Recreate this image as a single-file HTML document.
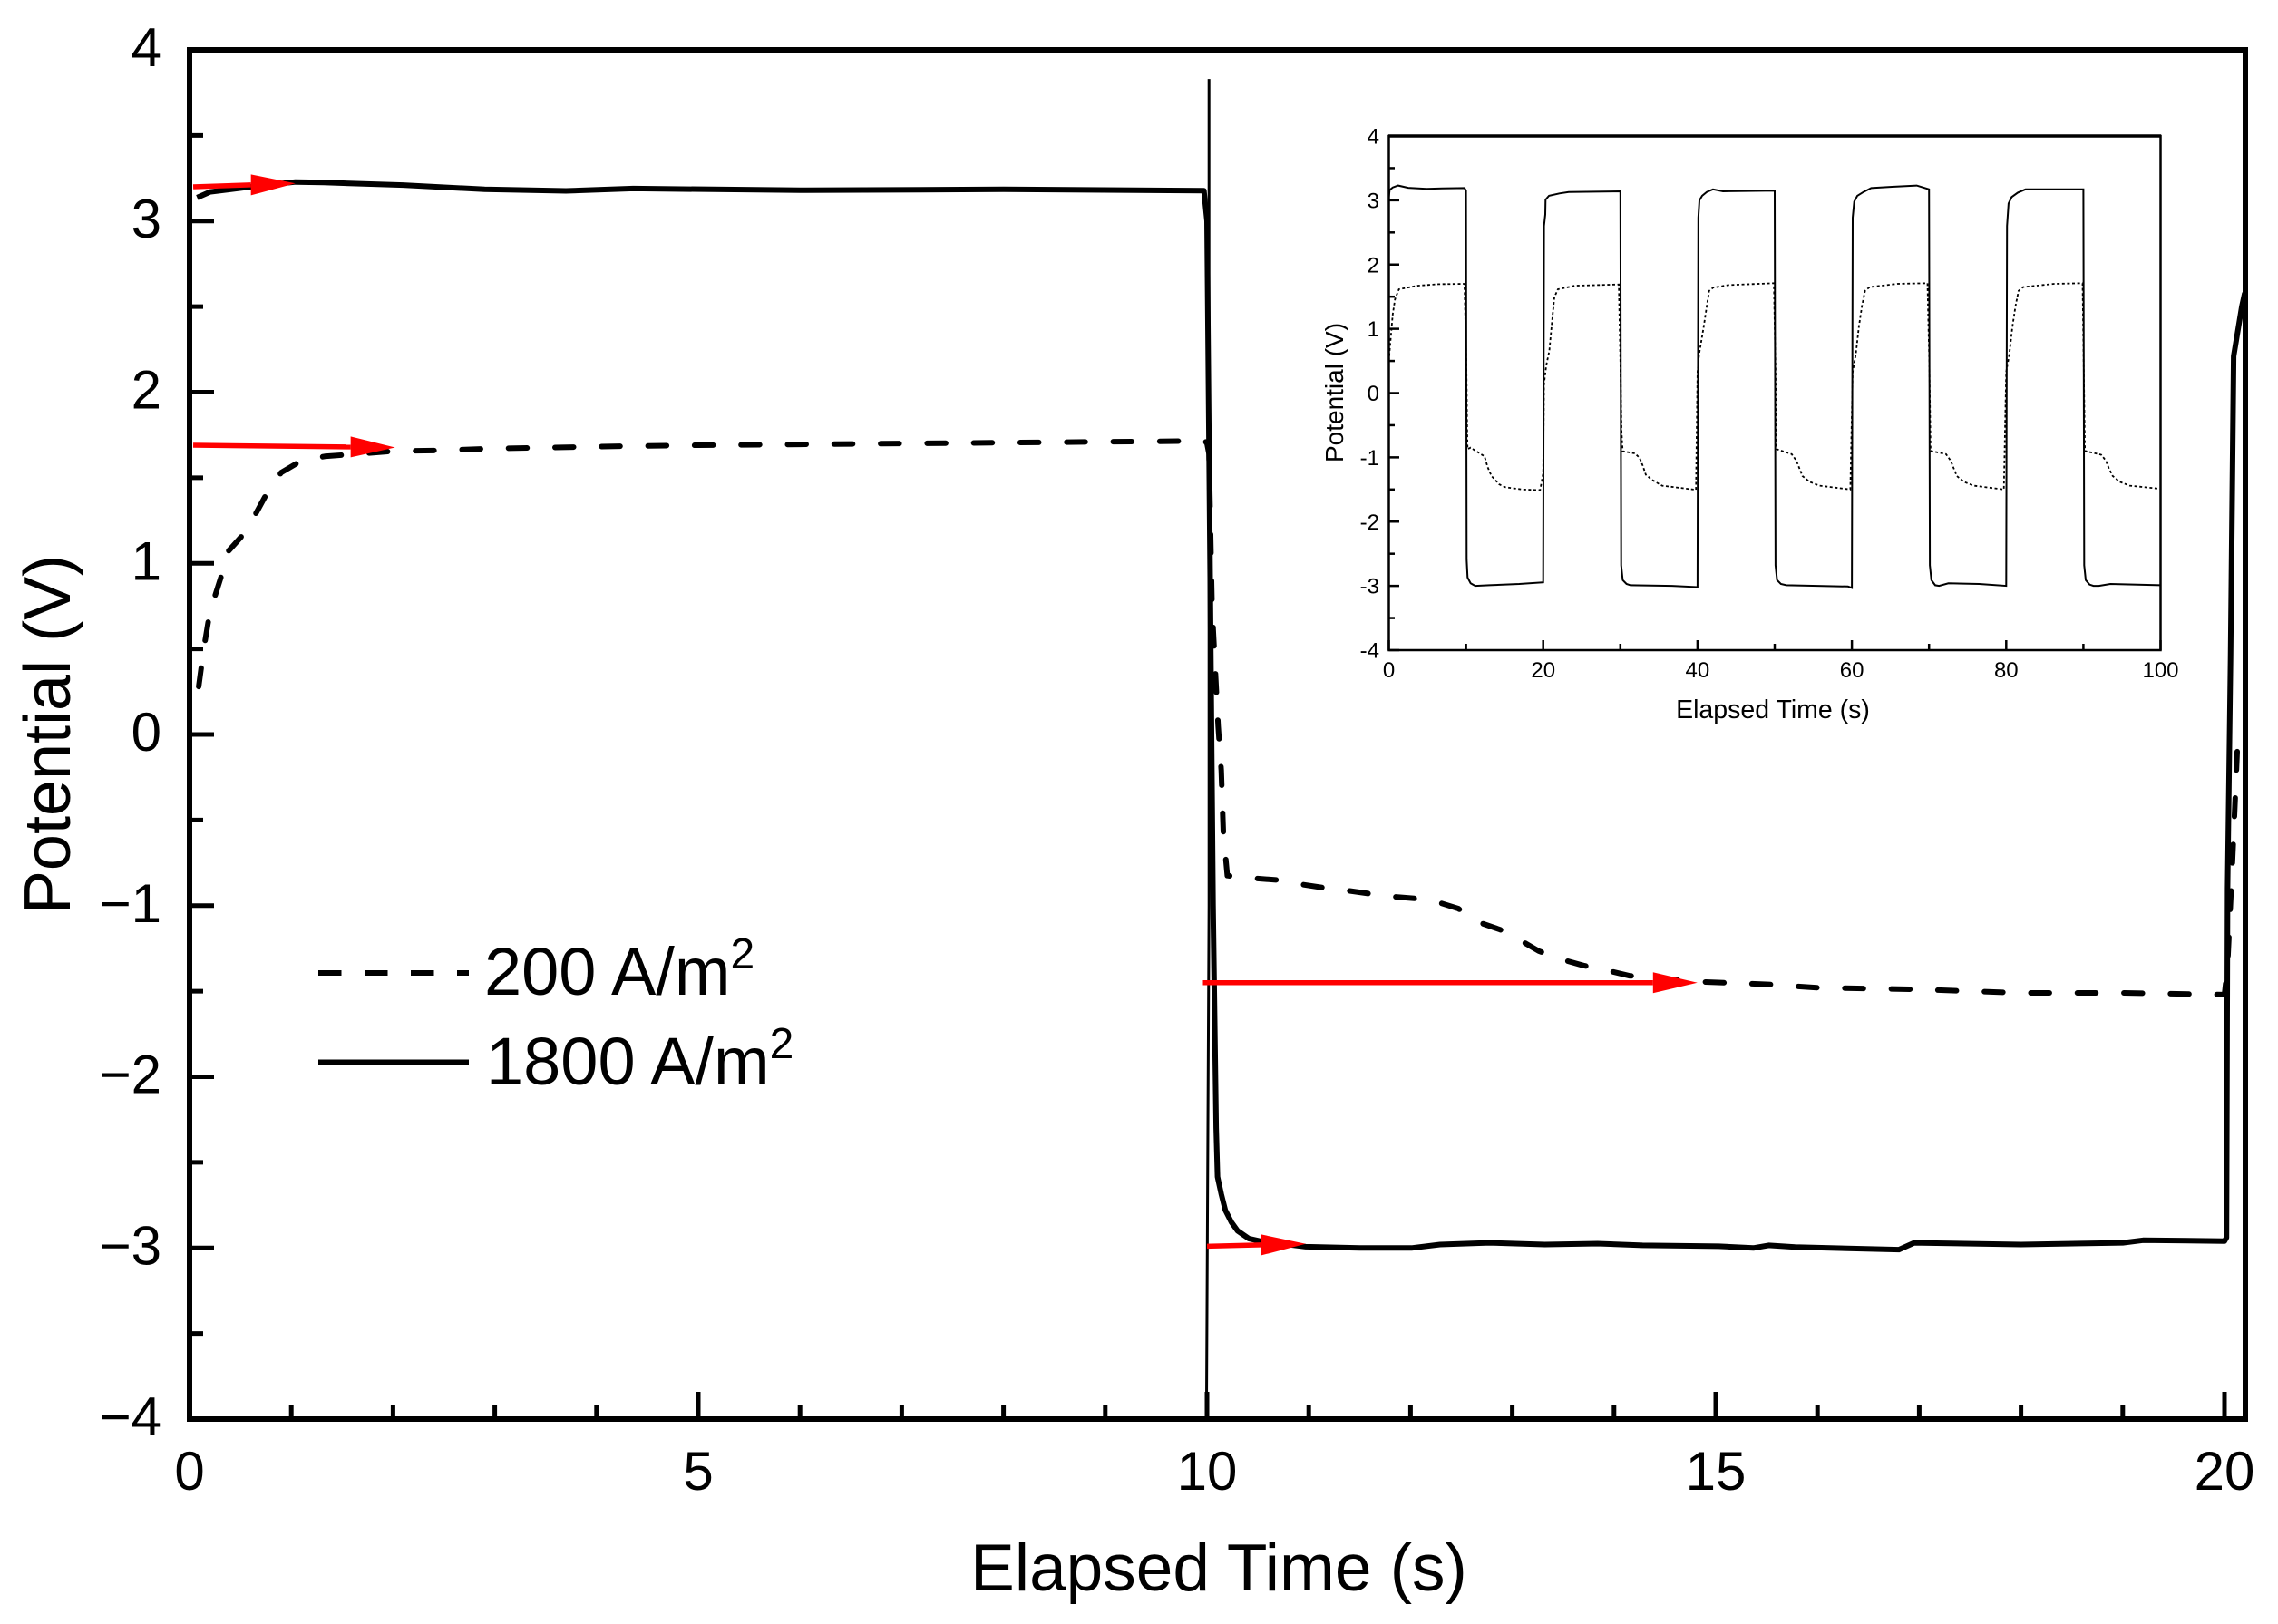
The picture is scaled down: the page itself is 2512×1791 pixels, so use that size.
<!DOCTYPE html>
<html>
<head>
<meta charset="utf-8">
<title>Potential vs Elapsed Time</title>
<style>
html,body{margin:0;padding:0;background:#fff;}
svg{display:block;}
text{font-family:"Liberation Sans",Arial,sans-serif;fill:#000;}
</style>
</head>
<body>
<svg id="chart" xmlns="http://www.w3.org/2000/svg" width="2512" height="1791" viewBox="0 0 2512 1791">
  <rect x="0" y="0" width="2512" height="1791" fill="#fff"></rect>
  <defs>
    <clipPath id="main-clip"><rect x="209" y="55" width="2267" height="1510"></rect></clipPath>
  </defs>
  <g id="main-ticks"></g>
  <g id="main-marks" clip-path="url(#main-clip)"></g>
  <rect x="209" y="55" width="2267" height="1510" fill="none" stroke="#000" stroke-width="6"></rect>
  <g id="main-arrows"></g>

  <text x="1344" y="1754" font-size="73" text-anchor="middle">Elapsed Time (s)</text>
  <text transform="translate(77,810) rotate(-90)" font-size="72" text-anchor="middle">Potential (V)</text>

  <line x1="351" y1="1073" x2="517" y2="1073" stroke="#000" stroke-width="6" stroke-dasharray="25.5 25.5"></line>
  <text x="534" y="1097" font-size="74">200 A/m<tspan font-size="48" dy="-29">2</tspan></text>
  <line x1="351" y1="1171.5" x2="517" y2="1171.5" stroke="#000" stroke-width="6"></line>
  <text x="536" y="1196" font-size="74">1800 A/m<tspan font-size="48" dy="-29">2</tspan></text>

  <g id="inset-ticks"></g>
  <g id="inset-marks"></g>
  <rect x="1531.5" y="150" width="851" height="567" fill="none" stroke="#000" stroke-width="2.5"></rect>
  <line x1="1531" y1="150" x2="2383" y2="150" stroke="#000" stroke-width="3.5"></line>
  <text x="1955" y="792" font-size="28.5" text-anchor="middle">Elapsed Time (s)</text>
  <text transform="translate(1481,433) rotate(-90)" font-size="28" text-anchor="middle">Potential (V)</text>
</svg>
<script>
// ---------- main chart data ----------
var mainXMajor = [0, 5, 10, 15, 20];
var mainXMinor = [1, 2, 3, 4, 6, 7, 8, 9, 11, 12, 13, 14, 16, 17, 18, 19];
var mainYMajor = [4, 3, 2, 1, 0, -1, -2, -3, -4];
var mainYMinor = [3.5, 2.5, 1.5, 0.5, -0.5, -1.5, -2.5, -3.5];

var lowTime = [0.09,0.14,0.19,0.25,0.32,0.38,0.53,0.66,0.76,0.9,1.1,1.33,2.0,2.47,2.93,4.3,5,6,7,8,9,9.98,10.0,10.02,10.05,10.11,10.14,10.16,10.2,10.45,10.68,10.92,11.14,11.36,11.59,11.81,12.04,12.27,12.47,12.66,12.88,13.07,13.26,13.49,13.7,13.94,14.15,14.84,15.52,16,17,18,19,20,20.03,20.08,20.1,20.125];
var lowPotential = [0.28,0.5,0.68,0.81,0.94,1.07,1.17,1.3,1.41,1.53,1.6,1.625,1.655,1.66,1.67,1.685,1.69,1.695,1.7,1.705,1.71,1.715,1.7,1.64,0.74,0.05,-0.21,-0.57,-0.825,-0.84,-0.85,-0.875,-0.895,-0.91,-0.93,-0.947,-0.958,-0.98,-1.017,-1.095,-1.14,-1.2,-1.265,-1.315,-1.35,-1.38,-1.41,-1.445,-1.46,-1.48,-1.49,-1.51,-1.51,-1.52,-1.35,-0.72,-0.45,-0.1];

var highTime = [0.075,0.2,0.6,1.04,1.32,2.1,2.9,3.7,4.36,6,8,9.97,10.0,10.06,10.09,10.103,10.14,10.18,10.24,10.3,10.41,10.52,10.97,11.5,12.01,12.29,12.77,13.32,13.84,14.28,15.03,15.37,15.52,15.78,16.8,16.95,18,19,19.2,20,20.02,20.03,20.06,20.09,20.17,20.2];
var highPotential = [3.137,3.17,3.2,3.228,3.225,3.21,3.185,3.176,3.19,3.18,3.185,3.178,3.0,-1.0,-2.3,-2.585,-2.685,-2.78,-2.85,-2.9,-2.945,-2.96,-2.993,-3.0,-3.0,-2.98,-2.97,-2.98,-2.975,-2.985,-2.99,-3.0,-2.985,-2.995,-3.01,-2.97,-2.98,-2.97,-2.955,-2.96,-2.94,-0.9,0.445,2.21,2.5,2.58];

var spikeTime = [10.02, 10.02, 9.995];
var spikePotential = [3.83, -1, -4];

var arrowFromTime = [0.036, 0.036, 9.96, 10.0];
var arrowFromPotential = [3.2, 1.69, -1.45, -2.99];
var arrowToTime = [1.04, 2.02, 14.82, 10.97];
var arrowToPotential = [3.22, 1.677, -1.45, -2.976];

// ---------- inset data ----------
var insetXMajor = [0, 20, 40, 60, 80, 100];
var insetXMinor = [10, 30, 50, 70, 90];
var insetYMajor = [4, 3, 2, 1, 0, -1, -2, -3, -4];
var insetYMinor = [3.5, 2.5, 1.5, 0.5, -0.5, -1.5, -2.5, -3.5];

var insetHighTime = [0,0.1,0.5,1.2,2.5,4.9,6.9,9.8,10,10.08,10.2,10.6,11.2,13,16.9,20,20.1,20.27,20.3,20.75,22.1,23.3,30,30.1,30.3,30.8,31.3,36.7,40,40.1,40.25,40.6,41.2,42,43.3,50,50.1,50.3,50.8,51.5,59.5,60,60.1,60.3,60.7,61.5,62.5,65.2,68.4,70,70.1,70.3,70.8,71.3,72.5,76.5,80,80.1,80.3,80.7,81.5,82.5,85.5,90,90.1,90.3,90.8,91.3,92,93.5,100];
var insetHighPotential = [3.05,3.16,3.2,3.23,3.195,3.177,3.185,3.19,3.15,-2.59,-2.87,-2.96,-3.0,-2.99,-2.97,-2.945,2.6,2.78,3.01,3.07,3.107,3.13,3.14,-2.68,-2.91,-2.97,-2.99,-3.0,-3.02,2.73,3.0,3.07,3.13,3.17,3.14,3.15,-2.68,-2.91,-2.97,-2.99,-3.01,-3.03,2.73,2.98,3.07,3.13,3.19,3.21,3.23,3.17,-2.68,-2.91,-2.99,-3.0,-2.96,-2.97,-3.0,2.6,2.95,3.05,3.12,3.17,3.17,3.17,-2.68,-2.91,-2.98,-3.0,-3.0,-2.97,-2.99];

var insetLowTime = [0,0.1,0.5,0.8,1.3,3.7,6.4,9.8,10.05,10.15,10.2,10.6,12.4,12.8,13.3,14.3,15.1,17.3,19.6,20,20.1,20.4,20.8,21.2,21.45,21.9,24.1,29.8,30,30.15,30.3,31.9,32.5,32.9,33.3,34.1,35.4,39.8,40,40.2,40.8,41.2,41.5,42,44,49.9,50.1,50.2,52.2,52.8,53.2,53.6,54.5,55.8,59.8,60.1,60.5,60.9,61.3,61.7,62.3,65.9,69.8,70.05,70.2,72.2,72.8,73.2,73.6,74.5,75.8,79.7,80,80.4,80.8,81.2,81.6,82.2,86.2,89.9,90.05,90.2,92.3,92.9,93.3,93.8,94.7,96,100];
var insetLowPotential = [0.5,0.66,1.225,1.46,1.615,1.67,1.695,1.7,0.5,-0.6,-0.87,-0.85,-0.985,-1.15,-1.29,-1.42,-1.465,-1.5,-1.51,-1.25,0.14,0.43,0.66,1.18,1.49,1.615,1.67,1.69,0.5,-0.6,-0.905,-0.94,-1.01,-1.13,-1.27,-1.35,-1.44,-1.505,0.33,0.6,1.03,1.35,1.59,1.64,1.68,1.71,0.4,-0.87,-0.95,-1.05,-1.17,-1.29,-1.38,-1.44,-1.5,0.33,0.6,1.03,1.35,1.59,1.65,1.7,1.71,0.4,-0.9,-0.95,-1.05,-1.17,-1.29,-1.38,-1.44,-1.5,0.33,0.6,1.03,1.35,1.59,1.65,1.7,1.71,0.4,-0.9,-0.96,-1.05,-1.17,-1.29,-1.38,-1.44,-1.49];

// ---------- axis functions ----------
function mainX(t){ return 209 + 112.2 * t; }
function mainY(v){ return 810 - 188.75 * v; }
function insetX(t){ return 1531.5 + 8.51 * t; }
function insetY(v){ return 433.5 - 70.875 * v; }

var NS = 'http://www.w3.org/2000/svg';
function make(tag, attrs, parent){
  var el = document.createElementNS(NS, tag);
  for (var k in attrs){ el.setAttribute(k, attrs[k]); }
  parent.appendChild(el);
  return el;
}
function points(ts, vs, fx, fy){
  var out = [];
  for (var i = 0; i < ts.length; i++){
    out.push(fx(ts[i]).toFixed(1) + ',' + fy(vs[i]).toFixed(1));
  }
  return out.join(' ');
}
function label(v){ return v < 0 ? '\u2212' + Math.abs(v) : String(v); }

var mainTicks = document.getElementById('main-ticks');
var mainMarks = document.getElementById('main-marks');
var mainArrows = document.getElementById('main-arrows');
var insetTicks = document.getElementById('inset-ticks');
var insetMarks = document.getElementById('inset-marks');

// ---------- main ticks ----------
mainYMajor.forEach(function(v){
  var tick = make('line', {x1: 209, x2: 236, y1: mainY(v), y2: mainY(v), stroke: '#000', 'stroke-width': 5}, mainTicks);
  
  
  var txt = make('text', {x: 178, y: mainY(v) + 18, 'font-size': 60, 'text-anchor': 'end'}, mainTicks);
  
  
  txt.textContent = label(v);
});
mainYMinor.forEach(function(v){
  var tick = make('line', {x1: 209, x2: 224, y1: mainY(v), y2: mainY(v), stroke: '#000', 'stroke-width': 5}, mainTicks);
  
  
});
mainXMajor.forEach(function(t){
  var tick = make('line', {x1: mainX(t), x2: mainX(t), y1: 1565, y2: 1535, stroke: '#000', 'stroke-width': 5}, mainTicks);
  
  
  var txt = make('text', {x: mainX(t), y: 1643, 'font-size': 60, 'text-anchor': 'middle'}, mainTicks);
  
  
  txt.textContent = String(t);
});
mainXMinor.forEach(function(t){
  var tick = make('line', {x1: mainX(t), x2: mainX(t), y1: 1565, y2: 1550, stroke: '#000', 'stroke-width': 5}, mainTicks);
  
  
});

// ---------- main series ----------
var spike = make('polyline', {points: points(spikeTime, spikePotential, mainX, mainY), fill: 'none', stroke: '#000', 'stroke-width': 3}, mainMarks);



var lowLine = make('polyline', {points: points(lowTime, lowPotential, mainX, mainY), fill: 'none', stroke: '#000', 'stroke-width': 6, 'stroke-linecap': 'round', 'stroke-linejoin': 'round', 'stroke-dasharray': '20.5 30.8'}, mainMarks);



var highLine = make('polyline', {points: points(highTime, highPotential, mainX, mainY), fill: 'none', stroke: '#000', 'stroke-width': 6, 'stroke-linejoin': 'round'}, mainMarks);



// ---------- red arrows ----------
arrowFromTime.forEach(function(_, i){
  var x1 = mainX(arrowFromTime[i]), y1 = mainY(arrowFromPotential[i]);
  var x2 = mainX(arrowToTime[i]), y2 = mainY(arrowToPotential[i]);
  var bx = x2 - 49, by = y2 + (y1 - y2) * 49 / (x2 - x1);
  var shaft = make('line', {x1: x1, y1: y1, x2: bx, y2: by, stroke: '#f00', 'stroke-width': 5.5}, mainArrows);
  
  
  var head = make('polygon', {points: x2 + ',' + y2 + ' ' + bx + ',' + (by - 11.5) + ' ' + bx + ',' + (by + 11.5), fill: '#f00'}, mainArrows);
  
  
});

// ---------- inset ticks ----------
insetYMajor.forEach(function(v){
  var tick = make('line', {x1: 1531.5, x2: 1543, y1: insetY(v), y2: insetY(v), stroke: '#000', 'stroke-width': 2.5}, insetTicks);
  
  
  var txt = make('text', {x: 1521, y: insetY(v) + 8.5, 'font-size': 24, 'text-anchor': 'end'}, insetTicks);
  
  
  txt.textContent = String(v);
});
insetYMinor.forEach(function(v){
  var tick = make('line', {x1: 1531.5, x2: 1538, y1: insetY(v), y2: insetY(v), stroke: '#000', 'stroke-width': 2.5}, insetTicks);
  
  
});
insetXMajor.forEach(function(t){
  var tick = make('line', {x1: insetX(t), x2: insetX(t), y1: 717, y2: 706, stroke: '#000', 'stroke-width': 2.5}, insetTicks);
  
  
  var txt = make('text', {x: insetX(t), y: 747, 'font-size': 24, 'text-anchor': 'middle'}, insetTicks);
  
  
  txt.textContent = String(t);
});
insetXMinor.forEach(function(t){
  var tick = make('line', {x1: insetX(t), x2: insetX(t), y1: 717, y2: 710, stroke: '#000', 'stroke-width': 2.5}, insetTicks);
  
  
});

// ---------- inset series ----------
var insetLow = make('polyline', {points: points(insetLowTime, insetLowPotential, insetX, insetY), fill: 'none', stroke: '#000', 'stroke-width': 1.8, 'stroke-dasharray': '3 2.6'}, insetMarks);



var insetHigh = make('polyline', {points: points(insetHighTime, insetHighPotential, insetX, insetY), fill: 'none', stroke: '#000', 'stroke-width': 2}, insetMarks);


</script>
</body>
</html>
